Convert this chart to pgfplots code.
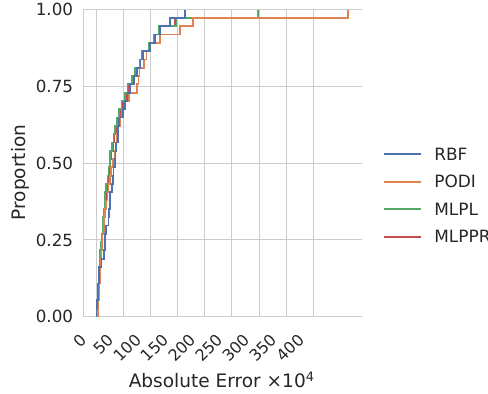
\documentclass[border=0pt]{standalone}
\usepackage{fontspec}
\setmainfont{DejaVu Sans}
\usepackage{pgfplots}
\usepackage{pgfplotstable}
\pgfplotsset{compat=1.18}
\definecolor{cRBF}{RGB}{76,114,176}
\definecolor{cPODI}{RGB}{221,132,82}
\definecolor{cMLPL}{RGB}{85,168,104}
\definecolor{cMLPPR}{RGB}{196,78,82}
\definecolor{gridc}{RGB}{204,204,204}
\definecolor{txt}{RGB}{38,38,38}

\pgfplotstableread{
y rbf podi mlpl mlppr
0 1 3 1 2
0.0270 1 3 1 2
0.0541 2 4 2 3
0.0811 3 5 3 4
0.1081 4 6 4 5
0.1351 5 7 5 6
0.1622 6 8 6 7
0.1892 10 9 7 8
0.2162 15 10 8 9
0.2432 16 11 9 10
0.2703 17 12 10 11
0.2973 18 14 12 13
0.3243 23 15 13 14
0.3514 24 17 15 16
0.3784 25 19 16 17
0.4054 26 21 17 19
0.4324 30 23 19 21
0.4595 31 25 21 23
0.4865 32 28 23 24
0.5135 35 31 25 26
0.5405 36 34 26 28
0.5676 37 36 29 31
0.5946 40 38 32 34
0.6216 41 41 35 37
0.6486 43 44 38 40
0.6757 50 47 42 44
0.7027 53 54 47 49
0.7297 58 60 53 55
0.7568 63 75 58 60
0.7838 70 78 66 67
0.8108 75 80 72 73
0.8378 82 88 80 81
0.8649 87 93 85 86
0.8919 99 100 97 98
0.9189 108 118 106 107
0.9459 118 154 116 117
0.9730 136 179 148 145
1.0000 164 463 298 298
}\ecdf

\begin{document}
\begin{tikzpicture}
\begin{axis}[
  at={(83.3bp,77.3bp)}, anchor=south west,
  width=278.4bp, height=307bp, scale only axis,
  xmin=-23.4, xmax=488.8, ymin=0, ymax=1,
  axis x line*=bottom, axis y line*=left,
  axis line style={draw=gridc, line width=1bp},
  xtick={0,50,...,400}, ytick={0,0.25,0.5,0.75,1},
  major tick length=0pt,
  grid=major, major grid style={draw=gridc, line width=1bp},
  /pgf/number format/assume math mode=true,
  tick label style={text=txt},
  yticklabel style={font=\fontsize{16.8}{20}\selectfont, /pgf/number format/.cd, fixed, fixed zerofill, precision=2, /tikz/.cd, anchor=east, inner sep=0pt, xshift=-10bp},
  xticklabel style={font=\fontsize{16}{19}\selectfont, inner sep=0pt, xshift=-12.1bp, yshift=-20.1bp, rotate=45, anchor=east},
  xlabel={Absolute Error ×10\textsuperscript{4}},
  ylabel={Proportion},
  label style={font=\fontsize{18.6}{22}\selectfont, text=txt},
  xlabel style={at={(rel axis cs:0.497,0)}, anchor=base, yshift=-70.6bp},
  ylabel style={at={(rel axis cs:-0.227,0.47)}, anchor=center},
  legend style={at={(rel axis cs:1.0765,0.395)}, anchor=west, draw=none, fill=none,
    inner sep=0pt, outer sep=0pt, font=\fontsize{17}{20}\selectfont, text=txt,
    row sep=15.1bp,
    nodes={inner sep=0pt, text height=12.4bp, text depth=0bp},
    /tikz/every odd column/.append style={column sep=12.5bp}},
  legend image code/.code={\draw[#1, line width=1.8bp] (0bp,0bp) -- (37bp,0bp);},
  legend cell align=left,
  reverse legend,
  every axis plot/.append style={const plot mark left, no marks, line width=1.8bp},
]
\addplot[cMLPPR] table[x=mlppr, y=y] {\ecdf};
\addlegendentry{MLPPR}
\addplot[cMLPL] table[x=mlpl, y=y] {\ecdf};
\addlegendentry{MLPL}
\addplot[cPODI] table[x=podi, y=y] {\ecdf};
\addlegendentry{PODI}
\addplot[cRBF] table[x=rbf, y=y] {\ecdf};
\addlegendentry{RBF}
\end{axis}
\pgfresetboundingbox
\path[use as bounding box] (0,0) rectangle (488bp,394bp);
\end{tikzpicture}
\end{document}
